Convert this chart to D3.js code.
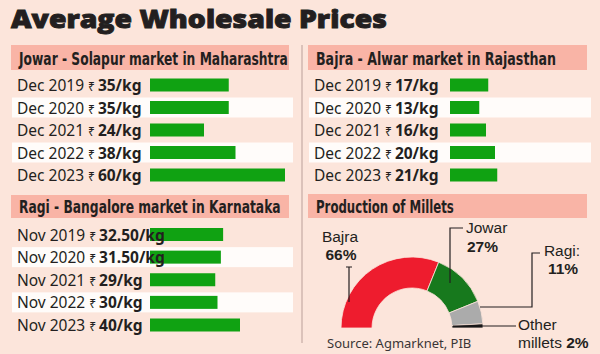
<!DOCTYPE html>
<html>
<head>
<meta charset="utf-8">
<script src="https://cdn.jsdelivr.net/npm/d3@7"></script>
<style>
  html, body { margin: 0; padding: 0; background: #fce5db; }
  svg { display: block; }
  text { font-family: "Noto Sans", "Open Sans", sans-serif; fill: #231f20; }
</style>
</head>
<body>
<svg id="chart" width="600" height="354"></svg>
<script>
// ---- data ----
var jowarMonths = ['Dec 2019', 'Dec 2020', 'Dec 2021', 'Dec 2022', 'Dec 2023'];
var jowarPrices = [35, 35, 24, 38, 60];
var jowarLabels = ['35/kg', '35/kg', '24/kg', '38/kg', '60/kg'];

var bajraMonths = ['Dec 2019', 'Dec 2020', 'Dec 2021', 'Dec 2022', 'Dec 2023'];
var bajraPrices = [17, 13, 16, 20, 21];
var bajraLabels = ['17/kg', '13/kg', '16/kg', '20/kg', '21/kg'];

var ragiMonths = ['Nov 2019', 'Nov 2020', 'Nov 2021', 'Nov 2022', 'Nov 2023'];
var ragiPrices = [32.5, 31.5, 29, 30, 40];
var ragiLabels = ['32.50/kg', '31.50/kg', '29/kg', '30/kg', '40/kg'];

var milletNames = ['Bajra', 'Jowar', 'Ragi', 'Other millets'];
var milletShares = [66, 27, 11, 2];
var milletColors = ['#ee1c2e', '#17791d', '#ababab', '#111111'];

var
  bg = '#fce5db',
  bandColor = '#f9b4a6',
  barColor = '#10a212',
  svg = d3.select('#chart')
  ;

// shared price scale (Rs/kg -> bar length)
var xScale = d3.scaleLinear().domain([0, 60]).range([0, 135]);

svg.append('rect').attr('width', 600).attr('height', 354).attr('fill', bg);

// squeeze a text horizontally so it spans `len` px
function fitText(sel, x, y, len){
  var w = sel.node().getComputedTextLength();
  sel.attr('transform', 'translate(' + x + ',' + y + ') scale(' + (len / w) + ',1)');
}

// title (stroked a little to get the heavy look)
var title = svg.append('text')
  .style('font-family', '"Open Sans", sans-serif')
  .style('font-weight', 800)
  .style('font-size', '25px')
  .style('stroke', '#231f20')
  .style('stroke-width', 0.9)
  .text('Average Wholesale Prices');
fitText(title, 11, 28, 376);

// divider between the two columns
svg.append('line')
  .attr('x1', 302).attr('x2', 302).attr('y1', 45).attr('y2', 343)
  .attr('stroke', '#dbc2ba').attr('stroke-width', 2);

function header(x0, x1, y0, y1, label, len){
  svg.append('rect')
    .attr('x', x0).attr('y', y0)
    .attr('width', x1 - x0).attr('height', y1 - y0)
    .attr('fill', bandColor);
  var t = svg.append('text')
    .style('font-family', '"DejaVu Sans Condensed", "DejaVu Sans", sans-serif')
    .style('font-weight', 'bold')
    .style('font-size', '17.5px')
    .text(label);
  fitText(t, x0 + 8, y1 - 5, len);
}

function pricePanel(opts){
  var
    y = d3.scalePoint().domain(opts.months).range(opts.rows),
    g = svg.append('g'),
    rows
    ;

  header(opts.x0, opts.x1 - 4, opts.head[0], opts.head[1], opts.title, opts.titleLen);

  rows = g.selectAll('g.row')
    .data(opts.months.map(function(m, i){
      return {month: m, price: opts.prices[i], label: opts.labels[i], i: i};
    }))
    .enter().append('g')
    .attr('class', 'row')
    .attr('transform', function(d){ return 'translate(0,' + y(d.month) + ')'; });

  // alternating white strips
  rows.filter(function(d){ return d.i % 2 === 1; })
    .append('rect')
    .attr('x', opts.x0 + 1).attr('y', -10)
    .attr('width', opts.x1 - opts.x0 - 1).attr('height', 20)
    .attr('fill', '#fffcfa');

  rows.append('rect')
    .attr('x', opts.barX).attr('y', -6.5)
    .attr('width', function(d){ return xScale(d.price); })
    .attr('height', 13)
    .attr('fill', barColor);

  var t = rows.append('text')
    .attr('x', opts.x0 + 6).attr('y', 6)
    .style('font-size', '15.5px');
  t.append('tspan').text(function(d){ return d.month; });
  t.append('tspan').attr('dx', 4).style('font-size', '12px').text('₹');
  t.append('tspan').attr('dx', 3).style('font-weight', 'bold').text(function(d){ return d.label; });
}

pricePanel({
  x0: 11, x1: 293, barX: 150, head: [45, 70], rows: [85, 175],
  title: 'Jowar - Solapur market in Maharashtra', titleLen: 269,
  months: jowarMonths, prices: jowarPrices, labels: jowarLabels
});

pricePanel({
  x0: 308, x1: 591, barX: 450, head: [45, 70], rows: [85, 175],
  title: 'Bajra - Alwar market in Rajasthan', titleLen: 240,
  months: bajraMonths, prices: bajraPrices, labels: bajraLabels
});

pricePanel({
  x0: 11, x1: 293, barX: 150, head: [195, 218], rows: [234.5, 325],
  title: 'Ragi - Bangalore market in Karnataka', titleLen: 262,
  months: ragiMonths, prices: ragiPrices, labels: ragiLabels
});

header(308, 587, 194, 218, 'Production of Millets', 138);

// ---- half donut ----
var
  cx = 412, cy = 328,
  pie = d3.pie().sort(null).value(function(d){ return d; })
    .startAngle(-Math.PI / 2).endAngle(Math.PI / 2),
  arc = d3.arc().innerRadius(40).outerRadius(71),
  slices = pie(milletShares),
  donut = svg.append('g').attr('transform', 'translate(' + cx + ',' + cy + ')')
  ;

donut.selectAll('path')
  .data(slices)
  .enter().append('path')
  .attr('d', arc)
  .attr('fill', function(d, i){ return milletColors[i]; })
  .attr('stroke', bg)
  .attr('stroke-width', 0.8);

// leader lines (points relative to donut centre) and labels
var leaders = [
  [[-66, -61], [-60, -61], [-63, -61], [-63, -26]],
  [[51, -100], [38, -100], [38, -45]],
  [[128, -75], [120, -75], [120, -21], [68, -21]],
  [[41, -2], [104, -2]]
];
var lineGen = d3.line();
donut.selectAll('path.leader')
  .data(leaders)
  .enter().append('path')
  .attr('class', 'leader')
  .attr('d', lineGen)
  .attr('fill', 'none')
  .attr('stroke', '#231f20')
  .attr('stroke-width', 1.2);

function label(x, y, anchor, parts){
  var t = svg.append('text')
    .attr('x', x).attr('y', y)
    .attr('text-anchor', anchor)
    .style('font-family', '"Liberation Sans", Arial, sans-serif')
    .style('font-size', '15.5px');
  parts.forEach(function(p){
    t.append('tspan').style('font-weight', p[1] ? 'bold' : 'normal').text(p[0]);
  });
}

label(340, 242, 'middle', [[milletNames[0], false]]);
label(341, 260, 'middle', [[milletShares[0] + '%', true]]);
label(466, 233, 'start', [[milletNames[1], false]]);
label(467, 252, 'start', [[milletShares[1] + '%', true]]);
label(562, 256, 'middle', [[milletNames[2] + ':', false]]);
label(563, 274, 'middle', [[milletShares[2] + '%', true]]);
label(518, 330, 'start', [['Other', false]]);
label(518, 348, 'start', [['millets ', false], [milletShares[3] + '%', true]]);

svg.append('text')
  .attr('x', 327).attr('y', 348)
  .style('font-size', '13px')
  .style('fill', '#3a3536')
  .text('Source: Agmarknet, PIB');
</script>
</body>
</html>
